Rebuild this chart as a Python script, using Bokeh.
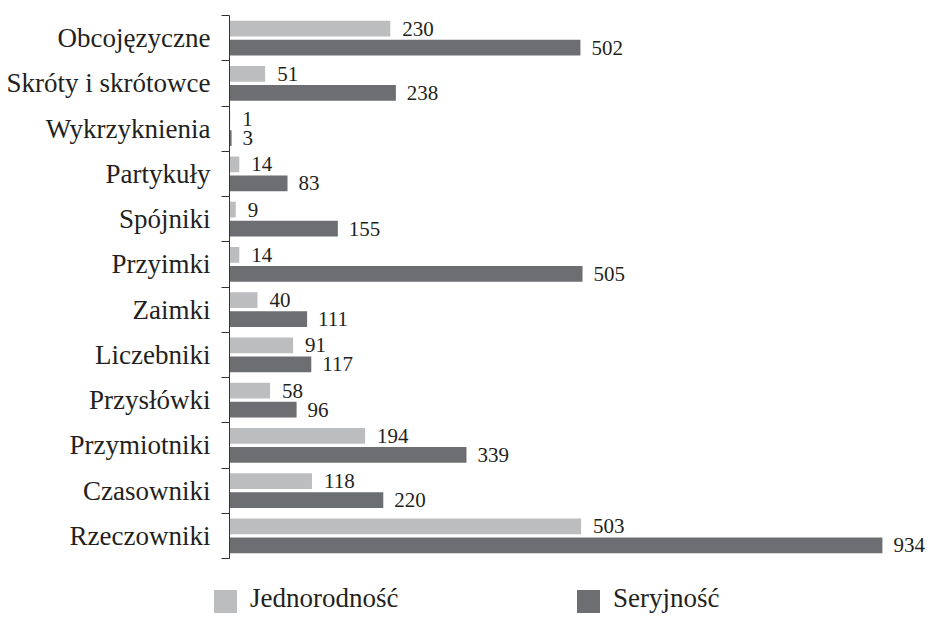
from bokeh.plotting import figure
from bokeh.layouts import column
from bokeh.models import Range1d, FixedTicker, ColumnDataSource, Div
from bokeh.transform import dodge
from bokeh.embed import file_html
from bokeh.resources import INLINE

# Categories listed bottom to top
categories = ["Rzeczowniki", "Czasowniki", "Przymiotniki", "Przysłówki", "Liczebniki",
              "Zaimki", "Przyimki", "Spójniki", "Partykuły", "Wykrzyknienia",
              "Skróty i skrótowce", "Obcojęzyczne"]
jednorodnosc = [503, 118, 194, 58, 91, 40, 14, 9, 14, 1, 51, 230]
seryjnosc = [934, 220, 339, 96, 117, 111, 505, 155, 83, 3, 238, 502]
series_names = ["Jednorodność", "Seryjność"]

FONT = "Liberation Serif"
TEXT = "#231f20"
LIGHT = "#bcbdbf"
DARK = "#6d6e71"

pos = list(range(len(categories)))
src = ColumnDataSource(dict(
    y=pos, jed=jednorodnosc, ser=seryjnosc,
    jed_lbl=[str(v) for v in jednorodnosc],
    ser_lbl=[str(v) for v in seryjnosc],
))

p = figure(width=927, height=580,
           x_range=Range1d(0, 998.5), y_range=Range1d(-0.5, len(categories) - 0.5),
           output_backend="svg", toolbar_location=None,
           min_border_left=229, min_border_right=0,
           min_border_top=15, min_border_bottom=22,
           x_axis_location=None, outline_line_color=None)
p.xgrid.visible = False
p.ygrid.visible = False

# Labels at category centres, short ticks at category boundaries
ax = p.yaxis[0]
ax.ticker = FixedTicker(ticks=pos, minor_ticks=[i - 0.5 for i in range(len(categories) + 1)])
ax.major_label_overrides = {i: c for i, c in zip(pos, categories)}
ax.major_tick_out = 0
ax.major_tick_in = 0
ax.minor_tick_out = 8
ax.minor_tick_in = 0
ax.minor_tick_line_color = "#333333"
ax.axis_line_color = "#333333"
ax.major_label_standoff = 11
ax.major_label_text_font = FONT
ax.major_label_text_font_size = "27px"
ax.major_label_text_color = TEXT

BAR_H = 0.35
p.hbar(y=dodge("y", 0.21, range=p.y_range), left=0, right="jed", height=BAR_H,
       source=src, fill_color=LIGHT, line_color=None)
p.hbar(y=dodge("y", -0.21, range=p.y_range), left=0, right="ser", height=BAR_H,
       source=src, fill_color=DARK, line_color=None)

p.text(x="jed", y=dodge("y", 0.21, range=p.y_range), text="jed_lbl", source=src,
       x_offset=12, text_baseline="middle", text_align="left",
       text_font=FONT, text_font_size="21px", text_color=TEXT)
p.text(x="ser", y=dodge("y", -0.21, range=p.y_range), text="ser_lbl", source=src,
       x_offset=11, text_baseline="middle", text_align="left",
       text_font=FONT, text_font_size="21px", text_color=TEXT)

# Legend strip under the chart
def key(left, color, name):
    return (f'<span style="position:absolute;left:{left}px;top:10px;width:23px;height:23px;'
            f'background:{color}"></span>'
            f'<span style="position:absolute;left:{left + 36}px;top:3px;line-height:31px;'
            f'white-space:nowrap">{name}</span>')

legend_html = (f'<div style="position:relative;width:927px;height:37px;margin:0;padding:0;'
               f'font-family:\'{FONT}\';font-size:27px;color:{TEXT}">'
               + key(214, LIGHT, series_names[0]) + key(577, DARK, series_names[1]) + '</div>')
legend = Div(text=legend_html, width=927, height=37, margin=(0, 0, 0, 0))

open("out.html", "w").write(file_html(column(p, legend, spacing=0), INLINE))
